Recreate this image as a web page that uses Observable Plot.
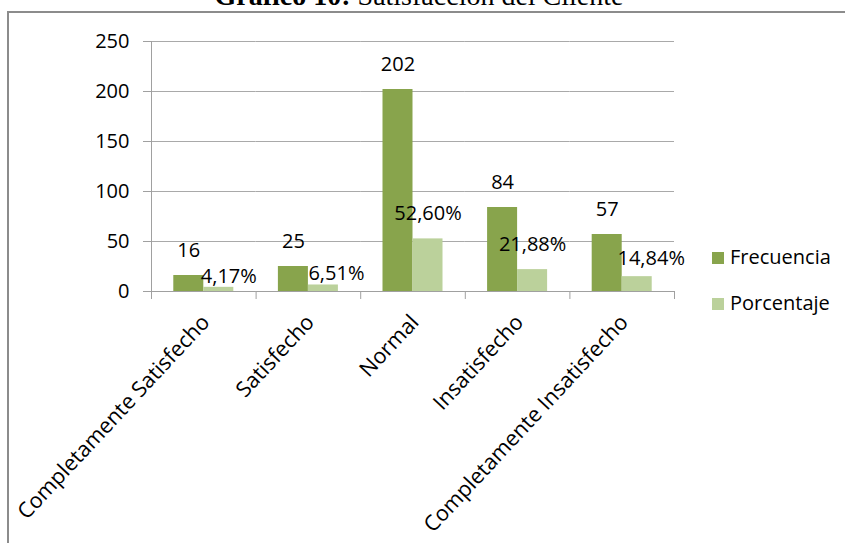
<!DOCTYPE html>
<html>
<head>
<meta charset="utf-8">
<script src="https://cdn.jsdelivr.net/npm/d3@7"></script>
<script src="https://cdn.jsdelivr.net/npm/@observablehq/plot@0.6"></script>
<style>
  html, body { margin: 0; padding: 0; background: #fff; }
  body { position: relative; width: 845px; height: 543px; overflow: hidden; font-family: "Open Sans", sans-serif; }
  #title { position: absolute; left: 0; width: 838px; top: -18px; text-align: center;
           font-family: "Liberation Serif", "Times New Roman", serif; font-size: 28px; line-height: 28px;
           color: #000; white-space: nowrap; }
  #box { position: absolute; left: 7px; top: 11px; width: 900px; height: 700px;
         border-top: 2px solid #8c8c8c; border-left: 2px solid #8c8c8c; z-index: 2; }
  #chart { position: absolute; left: 0; top: 0; z-index: 1; }
  #legend { position: absolute; left: 0; top: 0; z-index: 3; }
  .sw { position: absolute; width: 12px; height: 12px; }
  .lt { position: absolute; font-size: 20px; line-height: 20px; color: #000; white-space: nowrap; }
</style>
</head>
<body>
<div id="title"><b>Gráfico 10:</b> Satisfacción del Cliente</div>
<div id="box"></div>
<div id="chart"></div>
<div id="legend"></div>
<script>
// ---- data ----
const categorias = ["Completamente Satisfecho", "Satisfecho", "Normal", "Insatisfecho", "Completamente Insatisfecho"];
const series = ["Frecuencia", "Porcentaje"];
const frecuencia = [16, 25, 202, 84, 57];
const porcentaje = [4.17, 6.51, 52.60, 21.88, 14.84];
const yTicks = [0, 50, 100, 150, 200, 250];
const colores = ["#88a44c", "#bbd19b"];
// label nudges (pixels) for the percentage labels, as placed in the original
const pctDx = [10, 13, 0, 0, 14];
const pctDy = [-11, -11, -25, -25, -18];

const fmtPct = v => d3.format(".2f")(v).replace(".", ",") + "%";

const filas = categorias.flatMap((c, i) => [
  {categoria: c, serie: series[0], valor: frecuencia[i], etiqueta: String(frecuencia[i]), i},
  {categoria: c, serie: series[1], valor: porcentaje[i], etiqueta: fmtPct(porcentaje[i]), i}
]);

const FS = 20;
const etiquetas = [
  Plot.text(filas.filter(d => d.serie === series[0]), {
    fx: "categoria", x: "serie", y: "valor", text: "etiqueta",
    dy: -25, fontSize: FS, fill: "#000", lineAnchor: "middle"
  }),
  ...filas.filter(d => d.serie === series[1]).map(d =>
    Plot.text([d], {
      fx: "categoria", x: "serie", y: "valor", text: "etiqueta",
      dx: pctDx[d.i], dy: pctDy[d.i], fontSize: FS, fill: "#000", lineAnchor: "middle"
    })
  )
];

const chart = Plot.plot({
  width: 845,
  height: 543,
  marginTop: 41,
  marginBottom: 252,
  marginLeft: 151,
  marginRight: 171,
  style: {background: "transparent", fontFamily: "'Open Sans', sans-serif", fontSize: "20px", color: "#000"},
  fx: {domain: categorias, padding: 0, round: false, axis: null, label: null},
  x: {domain: series, paddingInner: 0, paddingOuter: 0.743, round: false, axis: null},
  y: {domain: [0, 250], axis: null},
  color: {domain: series, range: colores},
  marks: [
    Plot.gridY(yTicks, {stroke: "#a9a9a9", strokeOpacity: 1}),
    Plot.barY(filas, {fx: "categoria", x: "serie", y: "valor", fill: "serie"}),
    Plot.ruleY([0], {stroke: "#a0a0a0"}),
    // vertical value axis line (first facet only)
    Plot.frame({anchor: "left", fx: () => categorias[0], stroke: "#a0a0a0", insetBottom: -7}),
    // category boundary tick marks
    Plot.frame({anchor: "left", stroke: "#a0a0a0", insetTop: 250, insetBottom: -7}),
    Plot.frame({anchor: "right", fx: () => categorias[categorias.length - 1], stroke: "#a0a0a0", insetTop: 250, insetBottom: -7}),
    Plot.axisY(yTicks, {anchor: "left", tickSize: 8, tickPadding: 14, stroke: "#a0a0a0", fill: "#000", fontSize: FS, label: null}),
    Plot.axisFx({anchor: "bottom", tickRotate: -47, tickSize: 0, tickPadding: 27, dx: 2, fill: "#000", fontSize: 21.5, label: null}),
    ...etiquetas
  ]
});
document.getElementById("chart").appendChild(chart);

// legend
const leg = document.getElementById("legend");
series.forEach((s, k) => {
  const sw = document.createElement("div");
  sw.className = "sw";
  sw.style.left = "712px";
  sw.style.top = (252 + 46 * k) + "px";
  sw.style.background = colores[k];
  leg.appendChild(sw);
  const t = document.createElement("div");
  t.className = "lt";
  t.style.left = "730px";
  t.style.top = (247 + 46 * k) + "px";
  t.textContent = s;
  leg.appendChild(t);
});
</script>
</body>
</html>
